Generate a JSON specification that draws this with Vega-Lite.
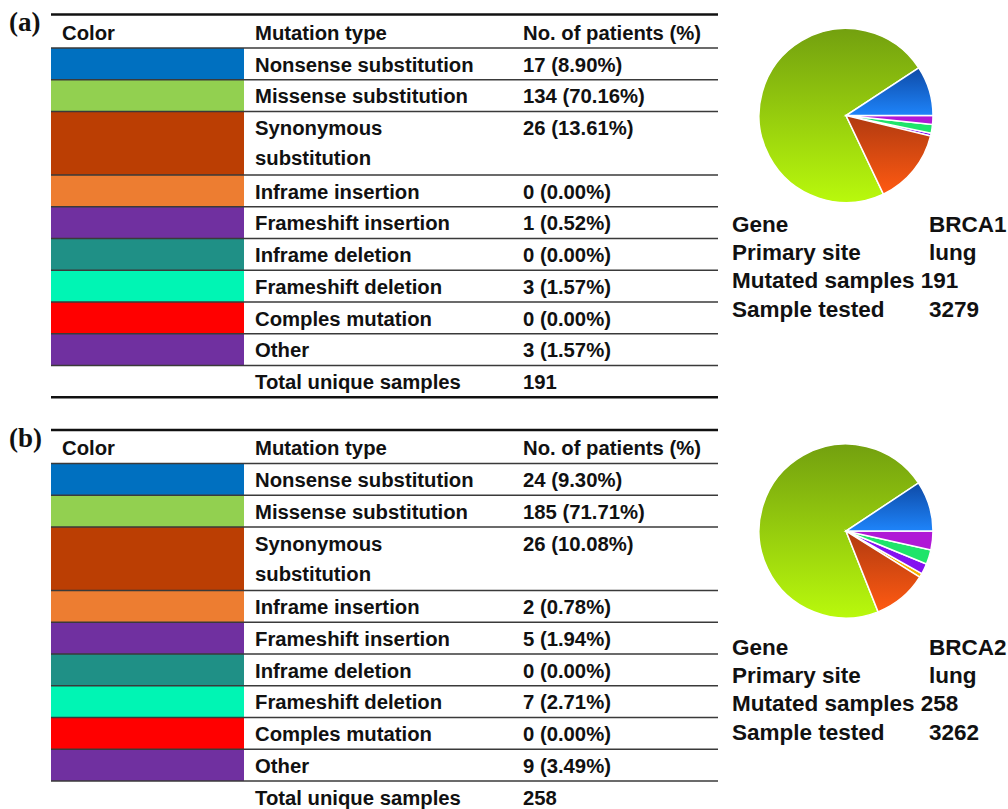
{
  "$schema": "https://vega.github.io/schema/vega-lite/v6.json",
  "width": 1008,
  "height": 809,
  "autosize": {"type": "none"},
  "padding": 0,
  "background": "white",
  "config": {
    "view": {"stroke": null},
    "text": {"font": "Liberation Sans", "fontWeight": "bold", "color": "#111111"}
  },
  "datasets": {
    "mutations": [
      {"panel": "a", "order": 1, "type": "Nonsense substitution", "count": 17},
      {"panel": "a", "order": 2, "type": "Missense substitution", "count": 134},
      {"panel": "a", "order": 3, "type": "Synonymous substitution", "count": 26},
      {"panel": "a", "order": 4, "type": "Inframe insertion", "count": 0},
      {"panel": "a", "order": 5, "type": "Frameshift insertion", "count": 1},
      {"panel": "a", "order": 6, "type": "Inframe deletion", "count": 0},
      {"panel": "a", "order": 7, "type": "Frameshift deletion", "count": 3},
      {"panel": "a", "order": 8, "type": "Comples mutation", "count": 0},
      {"panel": "a", "order": 9, "type": "Other", "count": 3},
      {"panel": "a", "order": 10, "type": "Total unique samples"},
      {"panel": "b", "order": 1, "type": "Nonsense substitution", "count": 24},
      {"panel": "b", "order": 2, "type": "Missense substitution", "count": 185},
      {"panel": "b", "order": 3, "type": "Synonymous substitution", "count": 26},
      {"panel": "b", "order": 4, "type": "Inframe insertion", "count": 2},
      {"panel": "b", "order": 5, "type": "Frameshift insertion", "count": 5},
      {"panel": "b", "order": 6, "type": "Inframe deletion", "count": 0},
      {"panel": "b", "order": 7, "type": "Frameshift deletion", "count": 7},
      {"panel": "b", "order": 8, "type": "Comples mutation", "count": 0},
      {"panel": "b", "order": 9, "type": "Other", "count": 9},
      {"panel": "b", "order": 10, "type": "Total unique samples"}
    ],
    "samples": [
      {"panel": "a", "Gene": "BRCA1", "Primary site": "lung", "Mutated samples": 191, "Sample tested": 3279},
      {"panel": "b", "Gene": "BRCA2", "Primary site": "lung", "Mutated samples": 258, "Sample tested": 3262}
    ]
  },
  "layer": [
    {
      "data": {"name": "mutations"},
      "transform": [
        {"lookup": "panel", "from": {"data": {"name": "samples"}, "key": "panel", "fields": ["Mutated samples"]}, "as": ["unique"]},
        {"calculate": "length(datum.type) > 22 ? split(datum.type, ' ') : [datum.type]", "as": "lines"},
        {"calculate": "length(datum.lines)", "as": "nlines"},
        {"window": [{"op": "sum", "field": "nlines", "as": "cumLines"}], "groupby": ["panel"], "sort": [{"field": "order"}]},
        {"calculate": "datum.panel === 'a' ? 48 : 463.5", "as": "base"},
        {"calculate": "datum.base + (datum.cumLines - datum.nlines) * 31.75", "as": "top"},
        {"calculate": "datum.base + datum.cumLines * 31.75", "as": "bottom"},
        {"calculate": "datum.top + 23.5", "as": "textBase"},
        {"calculate": "datum.base - 33.5", "as": "headTop"},
        {"calculate": "datum.base - 8.5", "as": "headBase"},
        {"calculate": "datum.base - 17", "as": "labelBase"},
        {"calculate": "datum.base + 67.5", "as": "cy"},
        {"calculate": "'(' + datum.panel + ')'", "as": "panelLabel"},
        {"calculate": "isValid(datum.count) ? datum.count + ' (' + format(datum.count / datum.unique, '.2%') + ')' : '' + datum.unique", "as": "valueText"},
        {"joinaggregate": [{"op": "sum", "field": "count", "as": "pieTotal"}], "groupby": ["panel"]},
        {"window": [{"op": "sum", "field": "count", "as": "pieCum"}], "groupby": ["panel"], "sort": [{"field": "order", "order": "descending"}]},
        {"calculate": "datum.pieCum / datum.pieTotal", "as": "t1"},
        {"calculate": "(datum.pieCum - datum.count) / datum.pieTotal", "as": "t0"}
      ],
      "layer": [
        {
          "transform": [{"filter": "isValid(datum.count)"}],
          "mark": {"type": "rect"},
          "encoding": {
            "x": {"datum": 51, "type": "quantitative", "scale": {"domain": [0, 1008], "nice": false}, "axis": null},
            "x2": {"datum": 244},
            "y": {"field": "top", "type": "quantitative", "scale": {"domain": [0, 809], "nice": false, "reverse": true}, "axis": null},
            "y2": {"field": "bottom"},
            "fill": {
              "field": "type", "type": "nominal", "legend": null,
              "scale": {
                "domain": ["Nonsense substitution", "Missense substitution", "Synonymous substitution", "Inframe insertion", "Frameshift insertion", "Inframe deletion", "Frameshift deletion", "Comples mutation", "Other"],
                "range": ["#0070c0", "#92d050", "#bb3e03", "#ed7d31", "#7030a0", "#1f9086", "#00f5b4", "#ff0000", "#7030a0"]
              }
            }
          }
        },
        {
          "mark": {"type": "rule", "color": "#3a3a3a", "strokeWidth": 1.3},
          "encoding": {
            "x": {"datum": 51, "type": "quantitative", "scale": {"domain": [0, 1008], "nice": false}, "axis": null},
            "x2": {"datum": 718},
            "y": {"field": "top", "type": "quantitative", "scale": {"domain": [0, 809], "nice": false, "reverse": true}, "axis": null}
          }
        },
        {
          "transform": [{"filter": "datum.order === 10"}],
          "mark": {"type": "rule", "color": "#111111", "strokeWidth": 2.4},
          "encoding": {
            "x": {"datum": 51, "type": "quantitative", "scale": {"domain": [0, 1008], "nice": false}, "axis": null},
            "x2": {"datum": 718},
            "y": {"field": "bottom", "type": "quantitative", "scale": {"domain": [0, 809], "nice": false, "reverse": true}, "axis": null}
          }
        },
        {
          "transform": [{"filter": "datum.order === 1"}],
          "mark": {"type": "rule", "color": "#111111", "strokeWidth": 2.4},
          "encoding": {
            "x": {"datum": 51, "type": "quantitative", "scale": {"domain": [0, 1008], "nice": false}, "axis": null},
            "x2": {"datum": 718},
            "y": {"field": "headTop", "type": "quantitative", "scale": {"domain": [0, 809], "nice": false, "reverse": true}, "axis": null}
          }
        },
        {
          "transform": [{"filter": "datum.order === 1"}],
          "mark": {"type": "text", "fontSize": 20.3, "align": "left", "baseline": "alphabetic", "text": "Color"},
          "encoding": {
            "x": {"datum": 62, "type": "quantitative", "scale": {"domain": [0, 1008], "nice": false}, "axis": null},
            "y": {"field": "headBase", "type": "quantitative", "scale": {"domain": [0, 809], "nice": false, "reverse": true}, "axis": null}
          }
        },
        {
          "transform": [{"filter": "datum.order === 1"}],
          "mark": {"type": "text", "fontSize": 20.3, "align": "left", "baseline": "alphabetic", "text": "Mutation type"},
          "encoding": {
            "x": {"datum": 255, "type": "quantitative", "scale": {"domain": [0, 1008], "nice": false}, "axis": null},
            "y": {"field": "headBase", "type": "quantitative", "scale": {"domain": [0, 809], "nice": false, "reverse": true}, "axis": null}
          }
        },
        {
          "transform": [{"filter": "datum.order === 1"}],
          "mark": {"type": "text", "fontSize": 20.3, "align": "left", "baseline": "alphabetic", "text": "No. of patients (%)"},
          "encoding": {
            "x": {"datum": 523, "type": "quantitative", "scale": {"domain": [0, 1008], "nice": false}, "axis": null},
            "y": {"field": "headBase", "type": "quantitative", "scale": {"domain": [0, 809], "nice": false, "reverse": true}, "axis": null}
          }
        },
        {
          "transform": [{"filter": "datum.order === 1"}],
          "mark": {"type": "text", "font": "Liberation Serif", "fontSize": 27, "align": "left", "baseline": "alphabetic"},
          "encoding": {
            "x": {"datum": 9, "type": "quantitative", "scale": {"domain": [0, 1008], "nice": false}, "axis": null},
            "y": {"field": "labelBase", "type": "quantitative", "scale": {"domain": [0, 809], "nice": false, "reverse": true}, "axis": null},
            "text": {"field": "panelLabel"}
          }
        },
        {
          "mark": {"type": "text", "fontSize": 20.3, "align": "left", "baseline": "alphabetic", "lineHeight": 30, "lineBreak": "\n"},
          "encoding": {
            "x": {"datum": 255, "type": "quantitative", "scale": {"domain": [0, 1008], "nice": false}, "axis": null},
            "y": {"field": "textBase", "type": "quantitative", "scale": {"domain": [0, 809], "nice": false, "reverse": true}, "axis": null},
            "text": {"field": "lines"}
          }
        },
        {
          "mark": {"type": "text", "fontSize": 20.3, "align": "left", "baseline": "alphabetic"},
          "encoding": {
            "x": {"datum": 523, "type": "quantitative", "scale": {"domain": [0, 1008], "nice": false}, "axis": null},
            "y": {"field": "textBase", "type": "quantitative", "scale": {"domain": [0, 809], "nice": false, "reverse": true}, "axis": null},
            "text": {"field": "valueText"}
          }
        },
        {
          "transform": [{"filter": "datum.count > 0"}],
          "mark": {"type": "arc", "outerRadius": 87, "stroke": "white", "strokeWidth": 1.5},
          "encoding": {
            "x": {"datum": 846, "type": "quantitative", "stack": null, "scale": {"domain": [0, 1008], "nice": false}, "axis": null},
            "y": {"field": "cy", "type": "quantitative", "stack": null, "scale": {"domain": [0, 809], "nice": false, "reverse": true}, "axis": null},
            "theta": {"field": "t0", "type": "quantitative", "stack": null, "scale": {"domain": [0, 1], "range": [1.5708, 7.854]}},
            "theta2": {"field": "t1"},
            "color": {
              "field": "type", "type": "nominal", "legend": null,
              "scale": {
                "domain": ["Nonsense substitution", "Missense substitution", "Synonymous substitution", "Inframe insertion", "Frameshift insertion", "Inframe deletion", "Frameshift deletion", "Comples mutation", "Other"],
                "range": ["#1466d8", "#9acd10", "#e04c10", "#f5b400", "#8412f0", "#1f9086", "#1ee46a", "#ff0000", "#b018d6"]
              }
            }
          }
        },
        {
          "transform": [{"filter": "datum.type === 'Missense substitution'"}],
          "mark": {
            "type": "arc", "outerRadius": 87, "stroke": "white", "strokeWidth": 1.5,
            "color": {"gradient": "linear", "x1": 0, "y1": 0, "x2": 0, "y2": 1, "stops": [{"offset": 0, "color": "#73a00f"}, {"offset": 1, "color": "#b9f90c"}]}
          },
          "encoding": {
            "x": {"datum": 846, "type": "quantitative", "stack": null, "scale": {"domain": [0, 1008], "nice": false}, "axis": null},
            "y": {"field": "cy", "type": "quantitative", "stack": null, "scale": {"domain": [0, 809], "nice": false, "reverse": true}, "axis": null},
            "theta": {"field": "t0", "type": "quantitative", "stack": null, "scale": {"domain": [0, 1], "range": [1.5708, 7.854]}},
            "theta2": {"field": "t1"}
          }
        },
        {
          "transform": [{"filter": "datum.type === 'Nonsense substitution'"}],
          "mark": {
            "type": "arc", "outerRadius": 87, "stroke": "white", "strokeWidth": 1.5,
            "color": {"gradient": "linear", "x1": 0, "y1": 0, "x2": 0, "y2": 1, "stops": [{"offset": 0, "color": "#0e4aa6"}, {"offset": 1, "color": "#1e84fa"}]}
          },
          "encoding": {
            "x": {"datum": 846, "type": "quantitative", "stack": null, "scale": {"domain": [0, 1008], "nice": false}, "axis": null},
            "y": {"field": "cy", "type": "quantitative", "stack": null, "scale": {"domain": [0, 809], "nice": false, "reverse": true}, "axis": null},
            "theta": {"field": "t0", "type": "quantitative", "stack": null, "scale": {"domain": [0, 1], "range": [1.5708, 7.854]}},
            "theta2": {"field": "t1"}
          }
        },
        {
          "transform": [{"filter": "datum.type === 'Synonymous substitution'"}],
          "mark": {
            "type": "arc", "outerRadius": 87, "stroke": "white", "strokeWidth": 1.5,
            "color": {"gradient": "linear", "x1": 0, "y1": 0, "x2": 0, "y2": 1, "stops": [{"offset": 0, "color": "#b03a10"}, {"offset": 1, "color": "#ff5a12"}]}
          },
          "encoding": {
            "x": {"datum": 846, "type": "quantitative", "stack": null, "scale": {"domain": [0, 1008], "nice": false}, "axis": null},
            "y": {"field": "cy", "type": "quantitative", "stack": null, "scale": {"domain": [0, 809], "nice": false, "reverse": true}, "axis": null},
            "theta": {"field": "t0", "type": "quantitative", "stack": null, "scale": {"domain": [0, 1], "range": [1.5708, 7.854]}},
            "theta2": {"field": "t1"}
          }
        }
      ]
    },
    {
      "data": {"name": "samples"},
      "transform": [
        {"fold": ["Gene", "Primary site", "Mutated samples", "Sample tested"], "as": ["key", "value"]},
        {"calculate": "indexof(['Gene', 'Primary site', 'Mutated samples', 'Sample tested'], datum.key)", "as": "idx"},
        {"calculate": "(datum.panel === 'a' ? 232 : 655) + datum.idx * 28.2", "as": "infoBase"},
        {"calculate": "datum.key === 'Mutated samples' ? datum.key + ' ' + datum.value : datum.key", "as": "labelText"}
      ],
      "layer": [
        {
          "mark": {"type": "text", "fontSize": 22.5, "align": "left", "baseline": "alphabetic"},
          "encoding": {
            "x": {"datum": 732, "type": "quantitative", "scale": {"domain": [0, 1008], "nice": false}, "axis": null},
            "y": {"field": "infoBase", "type": "quantitative", "scale": {"domain": [0, 809], "nice": false, "reverse": true}, "axis": null},
            "text": {"field": "labelText"}
          }
        },
        {
          "transform": [{"filter": "datum.key !== 'Mutated samples'"}],
          "mark": {"type": "text", "fontSize": 22.5, "align": "left", "baseline": "alphabetic"},
          "encoding": {
            "x": {"datum": 929, "type": "quantitative", "scale": {"domain": [0, 1008], "nice": false}, "axis": null},
            "y": {"field": "infoBase", "type": "quantitative", "scale": {"domain": [0, 809], "nice": false, "reverse": true}, "axis": null},
            "text": {"field": "value"}
          }
        }
      ]
    }
  ]
}
